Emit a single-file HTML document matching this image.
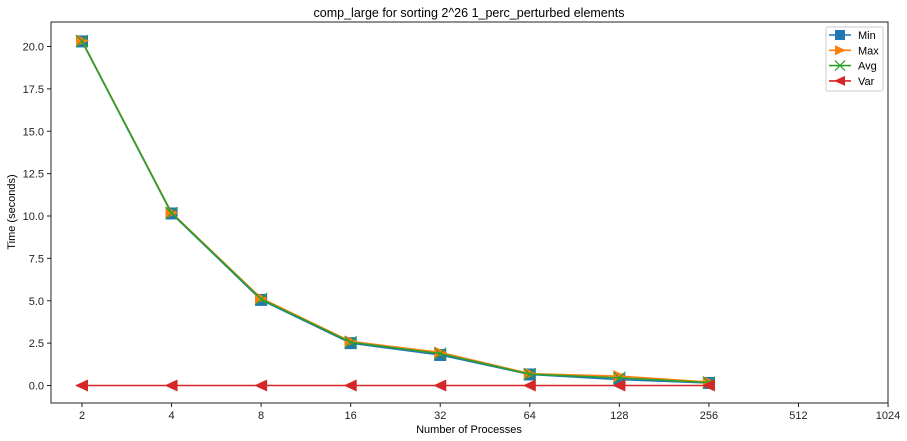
<!DOCTYPE html>
<html><head><meta charset="utf-8"><style>
html,body{margin:0;padding:0;background:#fff;}
svg{display:block;font-family:"Liberation Sans","DejaVu Sans",sans-serif;}
</style></head><body>
<svg id="chart" width="907" height="441" viewBox="0 0 907 441">
<rect x="0" y="0" width="907" height="441" fill="#fff"/>
<text x="469" y="17" text-anchor="middle" font-size="12.5" fill="#000">comp_large for sorting 2^26 1_perc_perturbed elements</text>
<g id="grid"></g>
<g id="series"></g>
<rect x="51" y="22" width="837" height="381" fill="none" stroke="#222" stroke-width="1"/>
<text x="469" y="433" text-anchor="middle" font-size="11" fill="#000">Number of Processes</text>
<text x="15" y="212" text-anchor="middle" font-size="11" fill="#000" transform="rotate(-90 15 212)">Time (seconds)</text>
<g>
<rect x="826" y="27" width="57" height="64" fill="#fff" stroke="#ccc" rx="2"/>
<g id="legend-items"></g>
</g>
</svg>
<script>
const procs = [2, 4, 8, 16, 32, 64, 128, 256];
const xTicks = [2, 4, 8, 16, 32, 64, 128, 256, 512, 1024];
const yTicks = [0, 2.5, 5, 7.5, 10, 12.5, 15, 17.5, 20];
const minVals = [20.3, 10.15, 5.05, 2.5, 1.8, 0.65, 0.35, 0.15];
const maxVals = [20.35, 10.2, 5.15, 2.6, 1.95, 0.7, 0.55, 0.2];
const avgVals = [20.32, 10.17, 5.1, 2.55, 1.88, 0.67, 0.45, 0.17];
const varVals = [0, 0, 0, 0, 0, 0, 0, 0];
const seriesNames = ["Min", "Max", "Avg", "Var"];

const NS = "http://www.w3.org/2000/svg";
function xs(v){ return 82 + (Math.log2(v) - 1) * 89.56; }
function ys(v){ return 385.5 - v * 16.95; }
function mk(tag, attrs, parent){ const e = document.createElementNS(NS, tag); for (const k in attrs) e.setAttribute(k, attrs[k]); parent.appendChild(e); return e; }

const grid = document.getElementById('grid');
xTicks.forEach(t => {
  const x = xs(t);
  const tk = mk('line', {x1:x, x2:x, y1:403, y2:407, stroke:'#222'}, grid);
  
  
  const lb = mk('text', {x:x, y:419, 'text-anchor':'middle', 'font-size':11, fill:'#222'}, grid);
  lb.textContent = t;
  
  
});
yTicks.forEach(t => {
  const y = ys(t);
  const tk = mk('line', {x1:47, x2:51, y1:y, y2:y, stroke:'#222'}, grid);
  
  
  const lb = mk('text', {x:44, y:y + 4, 'text-anchor':'end', 'font-size':11, fill:'#222'}, grid);
  lb.textContent = t.toFixed(1);
  
  
});

function marker(type, x, y, color, parent, s){
  s = s || 6;
  if (type === 's') return mk('rect', {x:x-s, y:y-s, width:2*s, height:2*s, fill:color}, parent);
  if (type === '>') return mk('polygon', {points:`${x-s},${y-s} ${x+s+1},${y} ${x-s},${y+s}`, fill:color}, parent);
  if (type === '<') return mk('polygon', {points:`${x+s},${y-s} ${x-s-1},${y} ${x+s},${y+s}`, fill:color}, parent);
  if (type === 'x') return mk('path', {d:`M${x-s},${y-s}L${x+s},${y+s}M${x-s},${y+s}L${x+s},${y-s}`, stroke:color, 'stroke-width':1.2, fill:'none'}, parent);
}

const allSeries = [
  {vals:minVals, color:'#1f77b4', m:'s', key:'min'},
  {vals:maxVals, color:'#ff7f0e', m:'>', key:'max'},
  {vals:avgVals, color:'#2ca02c', m:'x', key:'avg'},
  {vals:varVals, color:'#d62728', m:'<', key:'var'}
];
const sg = document.getElementById('series');
allSeries.forEach(s => {
  const g = mk('g', {}, sg);
  
  
  const pts = procs.map((p, i) => xs(p) + ',' + ys(s.vals[i])).join(' ');
  const pl = mk('polyline', {points:pts, fill:'none', stroke:s.color, 'stroke-width':1.6}, g);
  
  
  procs.forEach((p, i) => {
    const mm = marker(s.m, xs(p), ys(s.vals[i]), s.color, g);
    
    
  });
});

const lg = document.getElementById('legend-items');
allSeries.forEach((s, i) => {
  const y = 35 + i * 15.3;
  const g = mk('g', {}, lg);
  
  
  mk('line', {x1:829, x2:851, y1:y, y2:y, stroke:s.color, 'stroke-width':1.6}, g);
  marker(s.m, 840, y, s.color, g, 5);
  const t = mk('text', {x:858, y:y + 4, 'font-size':11, fill:'#000'}, g);
  t.textContent = seriesNames[i];
});
</script>
</body></html>
